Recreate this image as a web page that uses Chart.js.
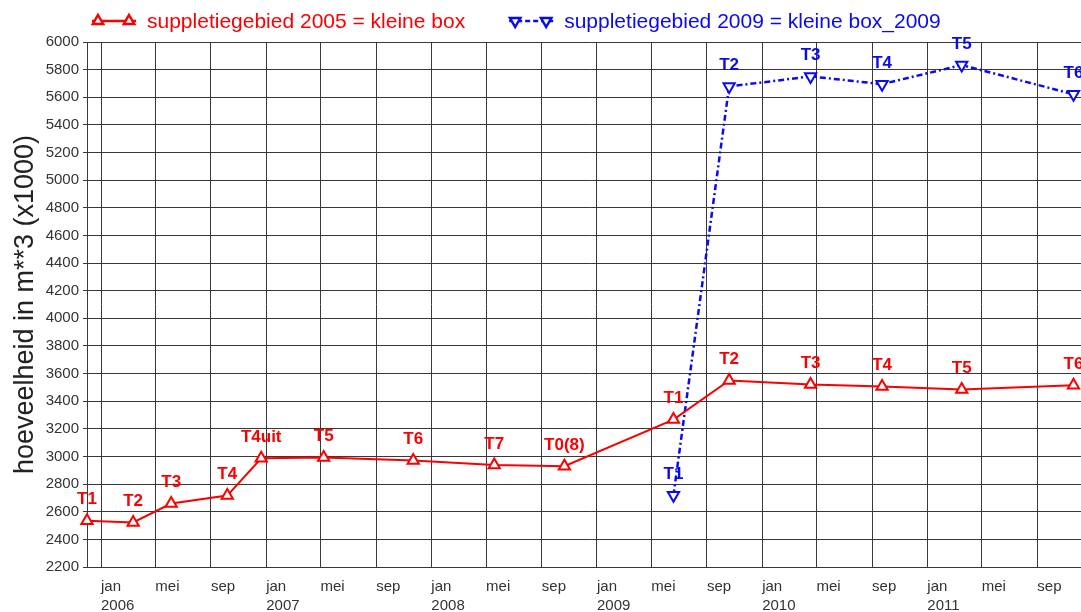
<!DOCTYPE html>
<html>
<head>
<meta charset="utf-8">
<script src="https://cdn.jsdelivr.net/npm/chart.js@4.4.0/dist/chart.umd.min.js"></script>
<style>
  html, body { margin: 0; padding: 0; background: #fff; overflow: hidden; }
  #wrap { position: relative; width: 1101px; height: 612px; }
</style>
</head>
<body>
<div id="wrap"><canvas id="myChart"></canvas></div>
<script>
// meetmomenten en volumes (x1000 m3)
var redDates = ['2005-12-01', '2006-03-13', '2006-06-05', '2006-10-07', '2006-12-21', '2007-05-08', '2007-11-22',
  '2008-05-19', '2008-10-21', '2009-06-19', '2009-10-20', '2010-04-18', '2010-09-23', '2011-03-18', '2011-11-20'];
var redValues = [2535, 2523, 2659, 2717, 2987, 2992, 2970, 2939, 2929, 3267, 3550, 3521, 3507, 3485, 3516];
var redLabels = ['T1', 'T2', 'T3', 'T4', 'T4uit', 'T5', 'T6', 'T7', 'T0(8)', 'T1', 'T2', 'T3', 'T4', 'T5', 'T6'];

var blueDates = ['2009-06-19', '2009-10-20', '2010-04-18', '2010-09-23', '2011-03-18', '2011-11-20'];
var blueValues = [2719, 5678, 5751, 5695, 5833, 5622];
var blueLabels = ['T1', 'T2', 'T3', 'T4', 'T5', 'T6'];

// as-labels
var tickMonths = ['jan', 'mei', 'sep'];
var tickMonthIdx = [0, 4, 8];
var tickYears = [2006, 2007, 2008, 2009, 2010, 2011];
var xStart = '2005-12-01';
var xEnd = '2012-01-01';
var yMin = 2200, yMax = 6000, yStep = 200;

var RED = 'rgb(250,0,0)';
var BLUE = 'rgb(10,10,240)';
var GRID = '#383838';
var FONT = '"Liberation Sans", Arial, sans-serif';

Chart.defaults.font.family = FONT;

// dagen sinds 1 jan 2006
function toDay(s) {
  var p = s.split('-');
  return (Date.UTC(+p[0], +p[1] - 1, +p[2]) - Date.UTC(2006, 0, 1)) / 86400000;
}

var tickValues = [];
var tickText = {};
tickYears.forEach(function (yr) {
  tickMonthIdx.forEach(function (m, k) {
    var v = (Date.UTC(yr, m, 1) - Date.UTC(2006, 0, 1)) / 86400000;
    tickValues.push(v);
    tickText[v] = k === 0 ? [tickMonths[k], String(yr)] : tickMonths[k];
  });
});

function toPoints(dates, values) {
  return dates.map(function (d, i) { return { x: toDay(d), y: values[i] }; });
}

// labels boven de punten
var pointLabelPlugin = {
  id: 'pointLabels',
  afterDatasetsDraw: function (chart) {
    var ctx = chart.ctx;
    chart.data.datasets.forEach(function (ds, i) {
      var meta = chart.getDatasetMeta(i);
      ctx.save();
      ctx.font = 'bold 17px ' + FONT;
      ctx.fillStyle = ds.borderColor;
      ctx.textAlign = 'center';
      ctx.textBaseline = 'middle';
      meta.data.forEach(function (pt, j) {
        ctx.fillText(ds.pointLabels[j], pt.x, pt.y - 21);
      });
      ctx.restore();
    });
  }
};

function triangle(ctx, x, y, r, down) {
  var s = down ? -1 : 1;
  ctx.beginPath();
  ctx.moveTo(x, y - s * r);
  ctx.lineTo(x + r * 0.866, y + s * r * 0.5);
  ctx.lineTo(x - r * 0.866, y + s * r * 0.5);
  ctx.closePath();
  ctx.fill();
  ctx.stroke();
}

// legenda bovenaan
var legendPlugin = {
  id: 'topLegend',
  afterDraw: function (chart) {
    var ctx = chart.ctx;
    var x = 92, y = 21;
    ctx.save();
    ctx.font = '21px ' + FONT;
    ctx.textBaseline = 'middle';
    chart.data.datasets.forEach(function (ds, i) {
      ctx.strokeStyle = ds.borderColor;
      ctx.lineWidth = 2.5;
      ctx.setLineDash(ds.borderDash ? [5, 3] : []);
      ctx.beginPath();
      ctx.moveTo(x, y);
      ctx.lineTo(x + 44, y);
      ctx.stroke();
      ctx.setLineDash([]);
      ctx.fillStyle = '#fff';
      triangle(ctx, x + 6, y, 6, i === 1);
      triangle(ctx, x + 37, y, 6, i === 1);
      ctx.fillStyle = ds.borderColor;
      ctx.fillText(ds.label, x + 55, y + 1);
      x = x + 55 + ctx.measureText(ds.label).width + 44;
    });
    ctx.restore();
  }
};

var ctx = document.getElementById('myChart').getContext('2d');
var chart = new Chart(ctx, {
  type: 'line',
  data: {
    datasets: [{
      label: 'suppletiegebied 2005 = kleine box',
      data: toPoints(redDates, redValues),
      pointLabels: redLabels,
      borderColor: RED,
      backgroundColor: '#fff',
      borderWidth: 2,
      pointStyle: 'triangle',
      pointRadius: 6.5,
      pointBorderWidth: 2,
      pointBackgroundColor: '#fff',
      pointBorderColor: RED,
      tension: 0,
      clip: false
    }, {
      label: 'suppletiegebied 2009 = kleine box_2009',
      data: toPoints(blueDates, blueValues),
      pointLabels: blueLabels,
      borderColor: BLUE,
      backgroundColor: '#fff',
      borderWidth: 2.5,
      borderDash: [6, 3, 2, 3],
      pointStyle: 'triangle',
      pointRotation: 180,
      pointRadius: 6.5,
      pointBorderWidth: 2,
      pointBackgroundColor: '#fff',
      pointBorderColor: BLUE,
      tension: 0,
      clip: false
    }]
  },
  options: {
    responsive: true,
    maintainAspectRatio: false,
    animation: false,
    layout: { padding: { top: 42, left: 0, right: 0, bottom: 0 } },
    plugins: {
      legend: { display: false },
      tooltip: { enabled: false }
    },
    scales: {
      x: {
        type: 'linear',
        min: toDay(xStart),
        max: toDay(xEnd),
        afterBuildTicks: function (axis) {
          axis.ticks = tickValues.map(function (v) { return { value: v }; });
        },
        afterFit: function (axis) { axis.height = 45; },
        ticks: {
          align: 'start',
          padding: 10,
          autoSkip: false,
          maxRotation: 0,
          color: '#333',
          font: { size: 15, lineHeight: 1.3 },
          callback: function (v) { return tickText[v]; }
        },
        grid: { color: GRID, lineWidth: 1, drawTicks: false },
        border: { display: true, color: GRID }
      },
      y: {
        min: yMin,
        max: yMax,
        afterFit: function (axis) { axis.width = 87; },
        ticks: {
          stepSize: yStep,
          padding: 4,
          color: '#333',
          font: { size: 15 },
          callback: function (v) { return String(v); }
        },
        grid: { color: GRID, lineWidth: 1, tickLength: 4 },
        border: { display: true, color: GRID },
        title: {
          display: true,
          text: 'hoeveelheid in m**3 (x1000)',
          color: '#222',
          font: { size: 27 },
          padding: { top: 9, bottom: 0 }
        }
      }
    }
  },
  plugins: [pointLabelPlugin, legendPlugin]
});
</script>
</body>
</html>
